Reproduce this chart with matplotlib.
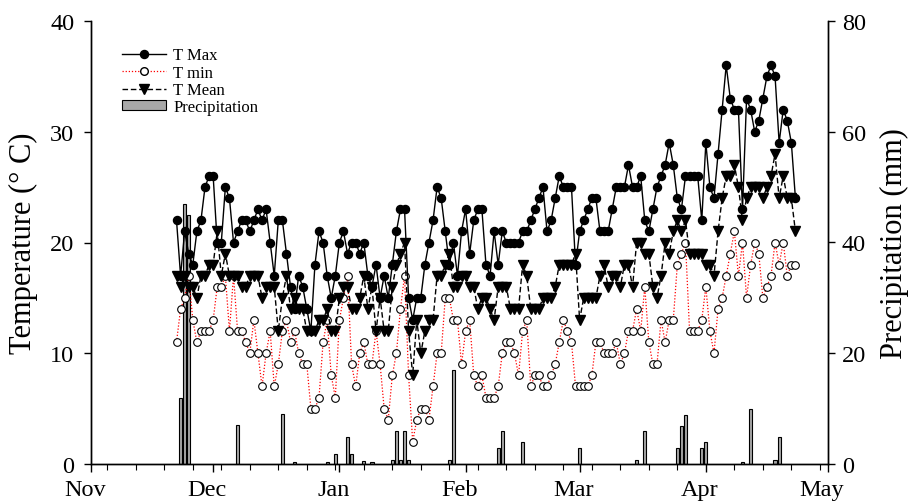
import matplotlib
matplotlib.use("Agg")
import matplotlib.pyplot as plt
import numpy as np
from matplotlib.lines import Line2D
from matplotlib.patches import Patch
from matplotlib.transforms import ScaledTranslation

plt.rcParams['font.family'] = ['Liberation Serif', 'DejaVu Serif']

# days since Nov 1
start_day = 21

t_max = [22,17,21,19,18,21,22,25,26,26,
         20,20,25,24,20,21,22,22,21,22,
         23,22,23,20,17,22,22,19,16,14,
         17,16,14,12,18,21,20,17,15,17,
         20,21,19,20,20,19,20,17,16,18,
         15,17,15,18,21,23,23,15,13,15,
         15,18,20,22,25,24,21,18,20,17,
         21,23,19,22,23,23,18,17,21,18,
         21,20,20,20,20,21,21,22,23,24,
         25,21,22,24,26,25,25,25,18,21,
         22,23,24,24,21,21,21,23,25,25,
         25,27,25,25,
         26,22,21,23,25,26,27,29,27,24,23,26,26,26,26,22,29,25,24,28,
         32,36,33,32,32,23,33,32,30,31,33,35,36,35,29,32,31,29,24]

t_mean = [17,16,17,16,16,15,17,17,18,18,
          21,17,19,17,17,17,16,16,17,17,
          17,15,16,16,16,12,15,17,14,15,
          14,14,12,12,12,13,13,14,12,12,
          15,16,16,14,14,15,17,14,16,12,
          15,12,12,16,18,19,20,12,8,13,
          10,12,13,13,17,17,18,19,16,16,
          17,17,16,16,14,15,15,14,13,16,
          16,16,14,14,14,18,17,14,14,14,
          15,15,15,16,18,18,18,18,19,13,
          15,15,15,15,17,18,16,17,17,16,
          18,18,16,20,
          20,19,19,16,15,17,20,19,21,22,21,22,19,19,19,19,18,18,17,21,
          24,26,26,27,25,22,24,25,25,25,24,25,26,28,24,26,24,24,21]

t_min = [11,14,15,17,13,11,12,12,12,13,
         16,16,17,12,17,12,12,11,10,13,
         10,7,10,12,7,9,12,13,11,12,
         10,9,9,5,5,6,11,13,8,6,
         13,15,17,9,7,10,11,9,9,12,
         9,5,4,8,10,14,17,8,2,4,
         5,5,4,7,10,10,15,15,13,13,
         9,12,13,8,7,8,6,6,6,7,
         10,11,11,10,8,12,13,7,8,8,
         7,7,8,9,11,13,12,11,7,7,
         7,7,8,11,11,10,10,10,11,9,
         10,12,12,14,
         12,16,11,9,9,13,11,13,13,18,19,20,12,12,12,13,16,12,10,14,
         15,17,19,21,17,20,15,18,20,19,15,16,17,20,18,20,17,18,18]

precip_days = [22,23,24,36,47,50,58,60,63,64,67,69,74,75,76,77,78,88,89,
               100,101,106,120,134,136,144,145,146,150,151,160,162,168,169]
precip_mm = [12,47,45,7,9,0.3,0.3,1.8,4.8,1.8,0.5,0.3,0.8,5.9,0.8,5.9,0.8,0.8,17,
             2.8,6,4,2.8,0.8,6,2.8,6.8,8.8,2.8,4,0.3,10,0.8,4.8]

month_labels = ['Nov', 'Dec', 'Jan', 'Feb', 'Mar', 'Apr', 'May']
month_days = [0, 30, 61, 92, 120, 151, 181]

days = np.arange(start_day, start_day + len(t_max))

W, H = 916, 502
fig = plt.figure(figsize=(W/100, H/100), dpi=100)
ax = fig.add_axes([91/W, 1-465/H, (828-91)/W, (465-22)/H])
ax2 = ax.twinx()

ax2.bar(precip_days, precip_mm, width=0.8, color='#a8a8a8', edgecolor='black',
        linewidth=0.8, zorder=2)
ax2.set_ylim(0, 80)
ax2.set_yticks([0, 20, 40, 60, 80])

ax.set_zorder(ax2.get_zorder() + 1)
ax.patch.set_visible(False)

ax.plot(days, t_min, color='red', lw=0.9, linestyle=(0, (1, 1.5)),
        marker='o', markersize=5.5, markerfacecolor='white',
        markeredgecolor='black', markeredgewidth=0.8, zorder=3)
ax.plot(days, t_mean, color='black', lw=1.0, linestyle=(0, (4, 2)),
        marker='v', markersize=7, markerfacecolor='black',
        markeredgecolor='black', zorder=4)
ax.plot(days, t_max, color='black', lw=1.0, linestyle='-',
        marker='o', markersize=5.8, markerfacecolor='black',
        markeredgecolor='black', zorder=5)

ax.set_xlim(0, 181)
ax.set_ylim(0, 40)
ax.set_yticks([0, 10, 20, 30, 40])
ax.set_xticks(month_days)
ax.set_xticklabels(month_labels)
ax.set_xticks(np.arange(4, 181, 7), minor=True)

for a in (ax, ax2):
    a.spines['top'].set_visible(False)
    for s in ('left', 'right', 'bottom'):
        a.spines[s].set_linewidth(1.0)

ax.tick_params(axis='x', which='major', direction='out', length=6, width=1,
               labelsize=17.5, pad=5)
ax.tick_params(axis='x', which='minor', direction='out', length=4, width=0.8)
ax.tick_params(axis='y', direction='out', length=5, width=1, labelsize=17.5, pad=7)
ax2.tick_params(axis='y', direction='out', length=5, width=1, labelsize=17.5, pad=5)

offset = ScaledTranslation(-6/100, 0, fig.dpi_scale_trans)
for lab in ax.get_xticklabels():
    lab.set_transform(lab.get_transform() + offset)

ax.set_ylabel('Temperature (° C)', fontsize=22)
ax.yaxis.set_label_coords(-0.072, 0.5)
ax2.set_ylabel('Precipitation (mm)', fontsize=22)
ax2.yaxis.set_label_coords(1.07, 0.5)

handles = [
    Line2D([], [], color='black', lw=1, marker='o', markersize=5.8,
           markerfacecolor='black'),
    Line2D([], [], color='red', lw=0.9, linestyle=(0, (1, 1.5)), marker='o',
           markersize=5.5, markerfacecolor='white', markeredgecolor='black'),
    Line2D([], [], color='black', lw=1, linestyle=(0, (4, 2)), marker='v',
           markersize=7, markerfacecolor='black'),
    Patch(facecolor='#a8a8a8', edgecolor='black', linewidth=0.8),
]
labels = ['T Max', 'T min', 'T Mean', 'Precipitation']
leg = ax.legend(handles, labels, loc='upper left',
                bbox_to_anchor=(114/W, 1-40/H), bbox_transform=fig.transFigure,
                frameon=False, fontsize=12, handlelength=2.6, handleheight=0.55,
                handletextpad=0.45, labelspacing=0.08, borderpad=0, numpoints=1)

fig.savefig('out.png', dpi=100)
